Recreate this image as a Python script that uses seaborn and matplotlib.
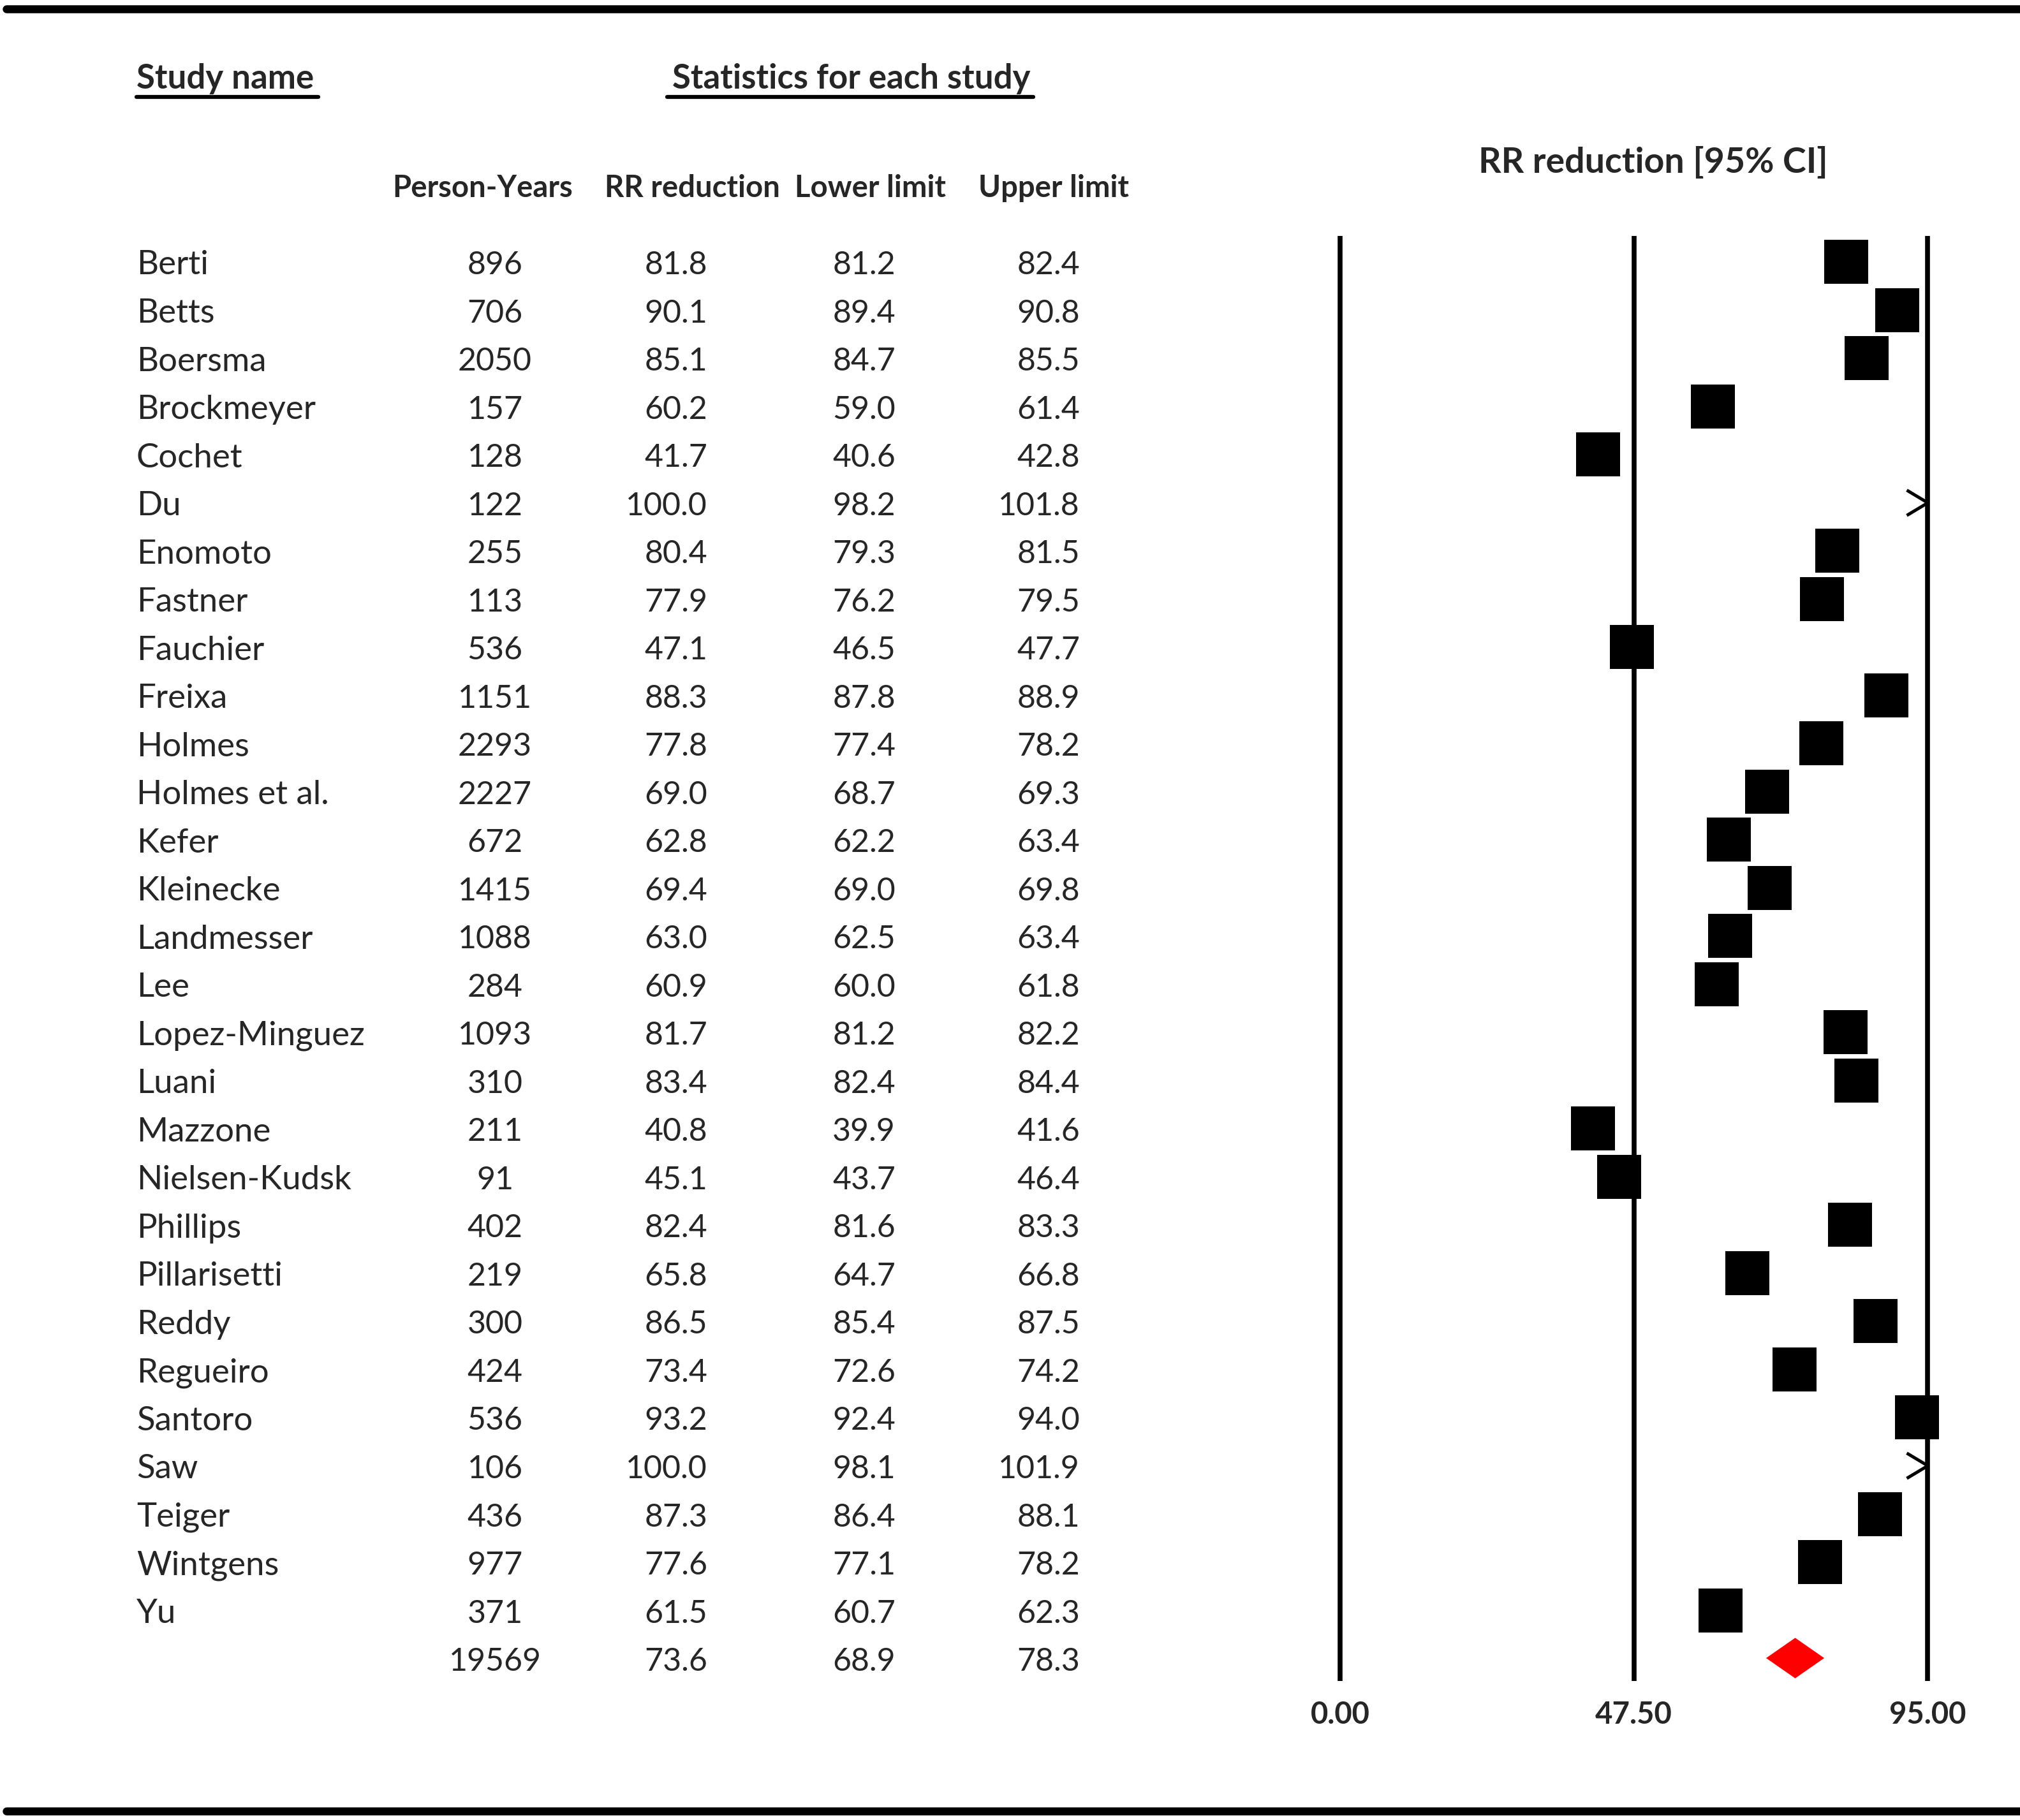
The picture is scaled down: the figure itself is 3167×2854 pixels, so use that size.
import numpy as np
import pandas as pd
import matplotlib
matplotlib.use("Agg")
import matplotlib.pyplot as plt
from matplotlib.path import Path
from matplotlib.transforms import blended_transform_factory
import seaborn as sns

studies = ["Berti", "Betts", "Boersma", "Brockmeyer", "Cochet", "Du", "Enomoto", "Fastner",
           "Fauchier", "Freixa", "Holmes", "Holmes et al.", "Kefer", "Kleinecke", "Landmesser",
           "Lee", "Lopez-Minguez", "Luani", "Mazzone", "Nielsen-Kudsk", "Phillips", "Pillarisetti",
           "Reddy", "Regueiro", "Santoro", "Saw", "Teiger", "Wintgens", "Yu"]
person_years = [896, 706, 2050, 157, 128, 122, 255, 113, 536, 1151, 2293, 2227, 672, 1415, 1088,
                284, 1093, 310, 211, 91, 402, 219, 300, 424, 536, 106, 436, 977, 371]
rr_reduction = [81.8, 90.1, 85.1, 60.2, 41.7, 100.0, 80.4, 77.9, 47.1, 88.3, 77.8, 69.0, 62.8, 69.4,
                63.0, 60.9, 81.7, 83.4, 40.8, 45.1, 82.4, 65.8, 86.5, 73.4, 93.2, 100.0, 87.3, 77.6, 61.5]
lower_limit = [81.2, 89.4, 84.7, 59.0, 40.6, 98.2, 79.3, 76.2, 46.5, 87.8, 77.4, 68.7, 62.2, 69.0,
               62.5, 60.0, 81.2, 82.4, 39.9, 43.7, 81.6, 64.7, 85.4, 72.6, 92.4, 98.1, 86.4, 77.1, 60.7]
upper_limit = [82.4, 90.8, 85.5, 61.4, 42.8, 101.8, 81.5, 79.5, 47.7, 88.9, 78.2, 69.3, 63.4, 69.8,
               63.4, 61.8, 82.2, 84.4, 41.6, 46.4, 83.3, 66.8, 87.5, 74.2, 94.0, 101.9, 88.1, 78.2, 62.3]
summary_py = 19569
summary_rr = 73.6
summary_lower = 68.9
summary_upper = 78.3
axis_ticks = [0.0, 47.5, 95.0]
tick_labels = ["0.00", "47.50", "95.00"]

sns.set_theme(style="white")
plt.rcParams["font.family"] = ["Lato", "DejaVu Sans"]

W, H, DPI = 3167, 2854, 100
fig = plt.figure(figsize=(W / DPI, H / DPI), dpi=DPI)
fig.patch.set_facecolor("white")

def fx(px):
    return px / W

def fy(py):
    return 1 - py / H

# forest axes
ax_left, ax_right = 2101, 3022
ax_top, ax_bot = 370, 2636
ax = fig.add_axes([fx(ax_left), fy(ax_bot), fx(ax_right - ax_left), (ax_bot - ax_top) / H])
ax.set_axis_off()
row0, step = 410, 75.52
ax.set_xlim(axis_ticks[0], axis_ticks[-1])
ax.set_ylim((ax_bot - row0) / step, (ax_top - row0) / step)

n = len(studies)
df = pd.DataFrame({"study": studies, "py": person_years, "rr": rr_reduction,
                   "lo": lower_limit, "hi": upper_limit, "row": np.arange(n)})
xmax = axis_ticks[-1]
inside = df[df["rr"] <= xmax]
outside = df[df["rr"] > xmax]

for t in axis_ticks:
    ax.axvline(t, color="black", lw=5.5, zorder=1, clip_on=False, solid_capstyle="butt")

# CI lines (hidden under squares)
for _, r in inside.iterrows():
    ax.plot([r["lo"], min(r["hi"], xmax)], [r["row"], r["row"]], color="black", lw=2, zorder=2)

msize = 69 * 72 / DPI
sns.scatterplot(data=inside, x="rr", y="row", marker="s", s=msize ** 2, color="black",
                linewidth=0, ax=ax, legend=False, zorder=3, clip_on=False)

arrow = Path([(-1.0, 0.6), (0.0, 0.0), (-1.0, -0.6)], [Path.MOVETO, Path.LINETO, Path.LINETO])
for _, r in outside.iterrows():
    ax.plot([xmax], [r["row"]], marker=arrow, markersize=66 * 72 / DPI, markerfacecolor="none",
            markeredgecolor="black", markeredgewidth=3.6, linestyle="none", clip_on=False, zorder=3)

srow = n
half_h = 0.42
ax.fill([summary_lower, summary_rr, summary_upper, summary_rr],
        [srow, srow - half_h, srow, srow + half_h], color="#ff0000", lw=0, zorder=3)

ax.set_xlabel("")
ax.set_ylabel("")

# tick labels
for t, lab in zip(axis_ticks, tick_labels):
    fig.text(fx(ax_left + (ax_right - ax_left) * (t - axis_ticks[0]) / (axis_ticks[-1] - axis_ticks[0])),
             fy(2689), lab, ha="center", va="center", fontsize=34, fontweight="bold")

fig.text(fx(2592), fy(254), "RR reduction [95% CI]", ha="center", va="center",
         fontsize=40, fontweight="bold")

# table
tr = blended_transform_factory(fig.transFigure, ax.transData)
fs = 38
nfs = 36
dy = 6 / step
for i in range(n):
    y = i + dy
    ax.text(fx(214), y, studies[i], transform=tr, ha="left", va="center", fontsize=fs, clip_on=False)
    ax.text(fx(776), y, f"{person_years[i]}", transform=tr, ha="center", va="center", fontsize=nfs, clip_on=False)
    ax.text(fx(1109), y, f"{rr_reduction[i]:.1f}", transform=tr, ha="right", va="center", fontsize=nfs, clip_on=False)
    ax.text(fx(1404), y, f"{lower_limit[i]:.1f}", transform=tr, ha="right", va="center", fontsize=nfs, clip_on=False)
    ax.text(fx(1693), y, f"{upper_limit[i]:.1f}", transform=tr, ha="right", va="center", fontsize=nfs, clip_on=False)
y = srow + dy
ax.text(fx(776), y, f"{summary_py}", transform=tr, ha="center", va="center", fontsize=nfs, clip_on=False)
ax.text(fx(1109), y, f"{summary_rr:.1f}", transform=tr, ha="right", va="center", fontsize=nfs, clip_on=False)
ax.text(fx(1404), y, f"{summary_lower:.1f}", transform=tr, ha="right", va="center", fontsize=nfs, clip_on=False)
ax.text(fx(1693), y, f"{summary_upper:.1f}", transform=tr, ha="right", va="center", fontsize=nfs, clip_on=False)

# headers
fig.text(fx(214), fy(124), "Study name", ha="left", va="center", fontsize=38, fontweight="bold")
fig.text(fx(1335), fy(124), "Statistics for each study", ha="center", va="center", fontsize=38, fontweight="bold")
fig.add_artist(plt.Line2D([fx(214), fx(499)], [fy(152), fy(152)], color="black", lw=4.5))
fig.add_artist(plt.Line2D([fx(1046), fx(1620)], [fy(152), fy(152)], color="black", lw=4.5))
for xc, lab in zip([757, 1085, 1365, 1652], ["Person-Years", "RR reduction", "Lower limit", "Upper limit"]):
    fig.text(fx(xc), fy(295), lab, ha="center", va="center", fontsize=34, fontweight="bold")

# top/bottom rules
fig.add_artist(plt.Line2D([fx(10), 1.0], [fy(14), fy(14)], color="black", lw=9))
fig.add_artist(plt.Line2D([fx(10), 1.0], [fy(2840), fy(2840)], color="black", lw=9))

fig.savefig("out.png", dpi=DPI, facecolor="white")
